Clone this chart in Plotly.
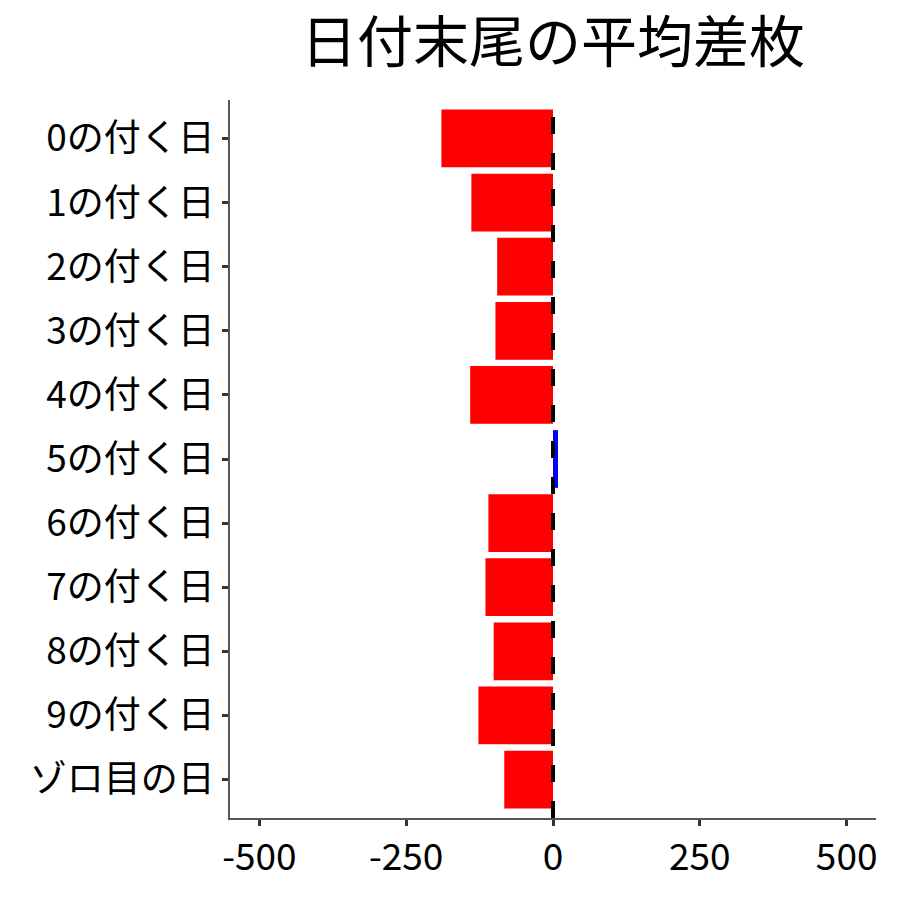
import plotly.graph_objects as go

# average payout difference by last digit of the date
labels = ['0の付く日', '1の付く日', '2の付く日', '3の付く日', '4の付く日',
          '5の付く日', '6の付く日', '7の付く日', '8の付く日', '9の付く日', 'ゾロ目の日']
values = [-190, -139, -95, -98, -141, 8.5, -110, -115, -101, -127, -83]
x_ticks = [-500, -250, 0, 250, 500]

colors = ['blue' if v > 0 else 'red' for v in values]
FONT = 'Noto Sans CJK JP'

fig = go.Figure()
fig.add_trace(go.Bar(x=values, y=labels, orientation='h', width=0.9,
                     marker=dict(color=colors, line=dict(width=0)), showlegend=False))

# dashed reference line at zero
fig.add_shape(type='line', xref='x', yref='paper', x0=0, x1=0, y0=0, y1=1,
              line=dict(color='black', width=4, dash='17px,19px'))

# page body adds ~8px offset, so margins are trimmed to compensate
fig.update_layout(
    width=892, height=892,
    title=dict(text='日付末尾の平均差枚', x=0.5, xref='paper', y=0.962, yanchor='middle',
               font=dict(family=FONT, size=56, color='black')),
    margin=dict(l=222, r=24, t=92, b=82),
    plot_bgcolor='white', paper_bgcolor='white',
    font=dict(family=FONT, color='black'),
    bargap=0.1,
)
fig.update_xaxes(range=[-550, 550], tickvals=x_ticks, ticktext=[str(v) for v in x_ticks],
                 showgrid=False, zeroline=False, showline=True, linecolor='#555555', linewidth=1.5,
                 ticks='outside', ticklen=6, tickwidth=3, tickcolor='#333333', automargin=False,
                 tickfont=dict(family=FONT, size=37, color='black'))
fig.update_yaxes(categoryorder='array', categoryarray=labels, autorange=False, range=[10.6, -0.6],
                 showgrid=False, zeroline=False, showline=True, linecolor='#555555', linewidth=1.5,
                 ticks='outside', ticklen=6, tickwidth=3, tickcolor='#333333', automargin=False,
                 tickfont=dict(family=FONT, size=37, color='black'))

fig.write_html('out.html')
